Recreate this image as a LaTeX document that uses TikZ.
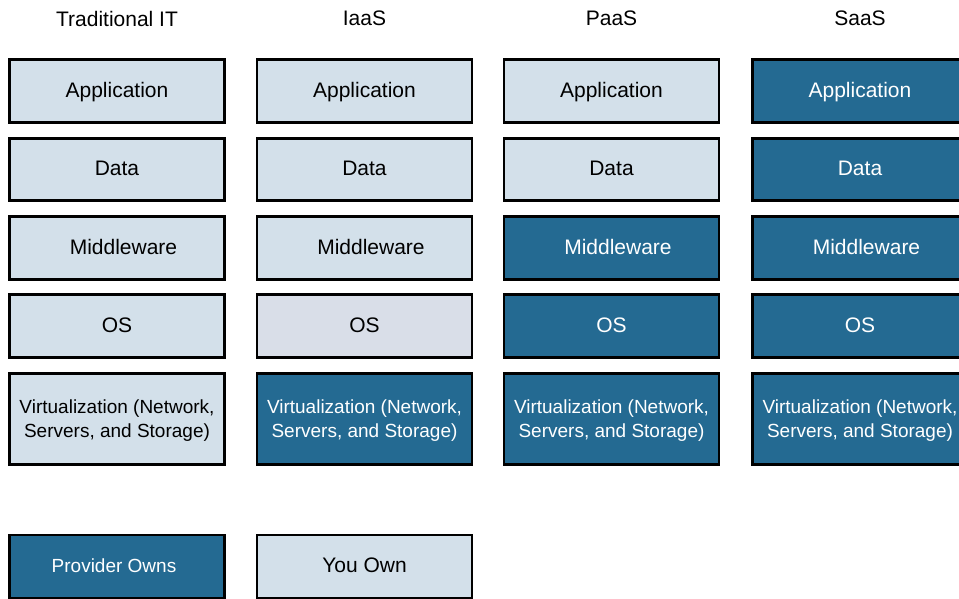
\documentclass[tikz,border=0pt]{standalone}
\usepackage{fontspec}
\setmainfont{Liberation Sans}
\definecolor{lightfill}{HTML}{D3E0EA}
\definecolor{osfill}{HTML}{D9DEE8}
\definecolor{darkfill}{HTML}{246A92}
\newcommand{\virttext}{\raisebox{-2pt}[\height][\depth]{\begin{tabular}{@{}c@{}}Virtualization (Network,\\Servers, and Storage)\end{tabular}}}
\newcommand{\mwtext}{\hspace*{13pt}Middleware}
\begin{document}
\begin{tikzpicture}[x=1pt,y=-1pt,
  box/.style={draw=black,line width=2.6pt,minimum width=215pt,inner sep=0pt,outer sep=0pt,align=center,font=\fontsize{21}{25}\selectfont},
  you/.style={box,fill=lightfill,text=black},
  prov/.style={box,fill=darkfill,text=white},
  rowh/.style={minimum height=63pt,text height=16pt,text depth=3.4pt},
  virt/.style={minimum height=91pt,font=\fontsize{19}{23.5}\selectfont},
  title/.style={font=\fontsize{21}{25}\selectfont,inner sep=0pt}]
\useasboundingbox (0,0) rectangle (959,599);
\clip (0,0) rectangle (959,599);
% titles
\node[title] (t1) at (117,18.5) {Traditional IT};
\node[title] (t2) at (364.5,18.5) {IaaS};
\node[title] (t3) at (611.5,18.5) {PaaS};
\node[title] (t4) at (860,18.5) {SaaS};
% Traditional IT
\node[you,rowh] (a1) at (117,91) {Application};
\node[you,rowh,minimum height=62pt] (d1) at (117,169.5) {Data};
\node[you,rowh] (m1) at (117,248) {\mwtext};
\node[you,rowh] (o1) at (117,326) {OS};
\node[you,virt] (v1) at (117,419) {\virttext};
% IaaS
\node[you,rowh] (a2) at (364.5,91) {Application};
\node[you,rowh,minimum height=62pt] (d2) at (364.5,169.5) {Data};
\node[you,rowh] (m2) at (364.5,248) {\mwtext};
\node[you,rowh,fill=osfill] (o2) at (364.5,326) {OS};
\node[prov,virt] (v2) at (364.5,419) {\virttext};
% PaaS
\node[you,rowh] (a3) at (611.5,91) {Application};
\node[you,rowh,minimum height=62pt] (d3) at (611.5,169.5) {Data};
\node[prov,rowh] (m3) at (611.5,248) {\mwtext};
\node[prov,rowh] (o3) at (611.5,326) {OS};
\node[prov,virt] (v3) at (611.5,419) {\virttext};
% SaaS
\node[prov,rowh] (a4) at (860,91) {Application};
\node[prov,rowh,minimum height=62pt] (d4) at (860,169.5) {Data};
\node[prov,rowh] (m4) at (860,248) {\mwtext};
\node[prov,rowh] (o4) at (860,326) {OS};
\node[prov,virt] (v4) at (860,419) {\virttext};
% legend
\node[prov,rowh,font=\fontsize{19}{23}\selectfont] (lp) at (117,566.5) {Provider Owns\hspace*{6pt}};
\node[you,rowh] (ly) at (364.5,566.5) {You Own};
\end{tikzpicture}
\end{document}
